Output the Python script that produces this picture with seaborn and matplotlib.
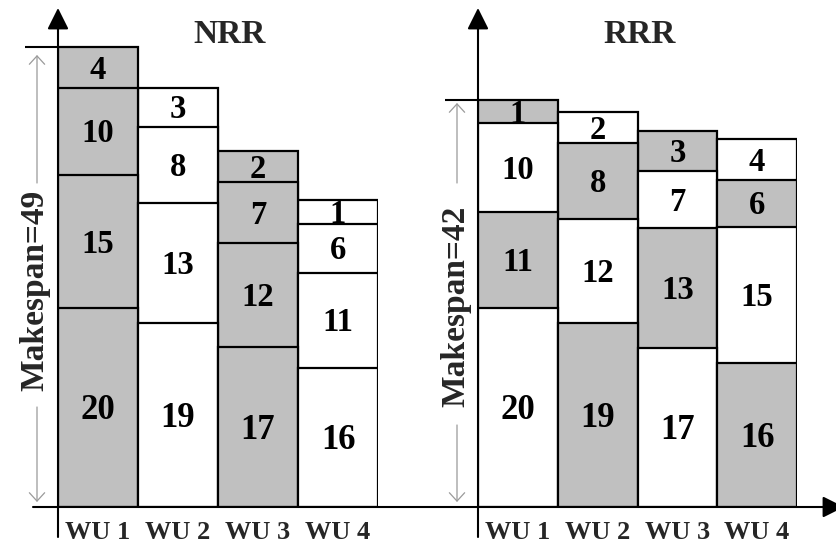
import numpy as np
import pandas as pd
import matplotlib
matplotlib.use("Agg")
import matplotlib.pyplot as plt
import seaborn as sns

# ---------------- data ----------------
units = ["WU 1", "WU 2", "WU 3", "WU 4"]
titles = ["NRR", "RRR"]
makespan_labels = ["Makespan=49", "Makespan=42"]

# task numbers shown in each block, bottom -> top
nrr_tasks = [[20, 15, 10, 4], [19, 13, 8, 3], [17, 12, 7, 2], [16, 11, 6, 1]]
rrr_tasks = [[20, 11, 10, 1], [19, 12, 8, 2], [17, 13, 7, 3], [16, 15, 6, 4]]

# block heights as drawn in the picture, bottom -> top
nrr_heights = [[21.2, 14.2, 9.3, 4.3], [19.6, 12.8, 8.1, 4.2],
               [17.1, 11.0, 6.5, 3.3], [14.8, 10.2, 5.2, 2.5]]
rrr_heights = [[21.2, 10.2, 9.5, 2.5], [19.6, 11.1, 8.1, 3.3],
               [17.0, 12.7, 6.1, 4.3], [15.4, 14.5, 5.0, 4.3]]

# shading of each block: 1 = grey, 0 = white
nrr_shade = [[1, 1, 1, 1], [0, 0, 0, 0], [1, 1, 1, 1], [0, 0, 0, 0]]
rrr_shade = [[0, 1, 0, 1], [1, 0, 1, 0], [0, 1, 0, 1], [1, 0, 1, 0]]

GREY = "#c0c0c0"
WHITE = "#ffffff"

# ---------------- style ----------------
sns.set_style("white")
plt.rcParams["font.family"] = ["Liberation Serif", "DejaVu Serif"]
plt.rcParams["font.weight"] = "bold"

W, H = 836, 547
fig = plt.figure(figsize=(W / 100, H / 100), dpi=100)

PX_PER_UNIT = 9.38
YMAX = 50
base_px = 507
ax_h = YMAX * PX_PER_UNIT / H
ax_b = (H - base_px) / H

axL = fig.add_axes([58 / W, ax_b, 320 / W, ax_h])
axR = fig.add_axes([478 / W, ax_b, 319 / W, ax_h])


def draw_panel(ax, heights, tasks, shade, title, title_x, ms_label, ms_text_pos,
               upper_arrow, lower_arrow, ms_arrow_x):
    h = np.array(heights, dtype=float)
    cum = np.cumsum(h, axis=1)
    # layered stacked bars, tallest cumulative first
    for lvl in range(3, -1, -1):
        df = pd.DataFrame({"unit": units, "top": cum[:, lvl]})
        pal = [GREY if shade[i][lvl] else WHITE for i in range(len(units))]
        sns.barplot(data=df, x="unit", y="top", hue="unit", palette=pal,
                    width=1.0, saturation=1, edgecolor="black", linewidth=1.6,
                    errorbar=None, legend=False, ax=ax)
    # block labels
    for i in range(len(units)):
        bottoms = cum[i] - h[i]
        for lvl in range(4):
            fs = 25 if lvl == 0 else 23.5
            ax.annotate(str(tasks[i][lvl]),
                        xy=(i, bottoms[lvl] + h[i][lvl] / 2),
                        xytext=(0, -0.338 * fs), textcoords="offset points",
                        ha="center", va="baseline", fontsize=fs,
                        fontweight="bold", color="black")
    ax.set_xlim(-0.5, 3.5)
    ax.set_ylim(0, YMAX)
    ax.set_xlabel("")
    ax.set_ylabel("")
    ax.set_yticks([])
    ax.set_xticks(range(len(units)))
    ax.set_xticklabels(units, fontsize=19, fontweight="bold")
    ax.tick_params(axis="x", length=0, pad=10)
    for s in ax.spines.values():
        s.set_visible(False)
    ax.patch.set_alpha(0)

    # title
    ax.text(title_x, (base_px - 43) / PX_PER_UNIT, title, ha="center",
            va="baseline", fontsize=24, fontweight="bold")

    # y axis with arrow
    ax.annotate("", xy=(-0.5, (base_px - 8) / PX_PER_UNIT),
                xytext=(-0.5, (base_px - 537) / PX_PER_UNIT),
                arrowprops=dict(arrowstyle="-|>,head_length=13,head_width=6.5",
                                mutation_scale=1, lw=1.5, color="black",
                                shrinkA=0, shrinkB=0),
                annotation_clip=False)

    # makespan marker line at top of WU 1
    top = cum[0, -1]
    ax.plot([-0.9125, -0.5], [top, top], color="black", lw=1.5, clip_on=False,
            solid_capstyle="butt")

    # grey makespan arrows
    for (y0, y1) in (upper_arrow, lower_arrow):
        ax.annotate("", xy=(ms_arrow_x, y1), xytext=(ms_arrow_x, y0),
                    arrowprops=dict(arrowstyle="->,head_length=6,head_width=5.5",
                                    mutation_scale=1, lw=0.9, color="#9a9a9a",
                                    shrinkA=0, shrinkB=0),
                    annotation_clip=False)

    # makespan text
    ax.text(ms_text_pos[0], ms_text_pos[1], ms_label, rotation=90,
            rotation_mode="anchor", ha="center", va="baseline",
            fontsize=24, fontweight="bold", clip_on=False)


def px2y(p):
    return (base_px - p) / PX_PER_UNIT


draw_panel(axL, nrr_heights, nrr_tasks, nrr_shade, titles[0],
           -0.5 + (230 - 58) / 80, makespan_labels[0],
           (-0.5 + (43 - 58) / 80, px2y(290)),
           (px2y(183), px2y(55)), (px2y(407), px2y(502)),
           -0.5 + (37 - 58) / 80)

draw_panel(axR, rrr_heights, rrr_tasks, rrr_shade, titles[1],
           -0.5 + (640 - 478) / 79.75, makespan_labels[1],
           (-0.5 + (464 - 478) / 79.75, px2y(306)),
           (px2y(183), px2y(103)), (px2y(425), px2y(502)),
           -0.5 + (457 - 478) / 79.75)

# overlay for the shared x axis
ov = fig.add_axes([0, 0, 1, 1])
ov.set_xlim(0, W)
ov.set_ylim(H, 0)
ov.axis("off")
ov.annotate("", xy=(844, base_px), xytext=(33, base_px),
            arrowprops=dict(arrowstyle="-|>,head_length=13,head_width=6.5",
                            mutation_scale=1, lw=1.5, color="black",
                            shrinkA=0, shrinkB=0),
            annotation_clip=False)

fig.savefig("out.png", dpi=100)
